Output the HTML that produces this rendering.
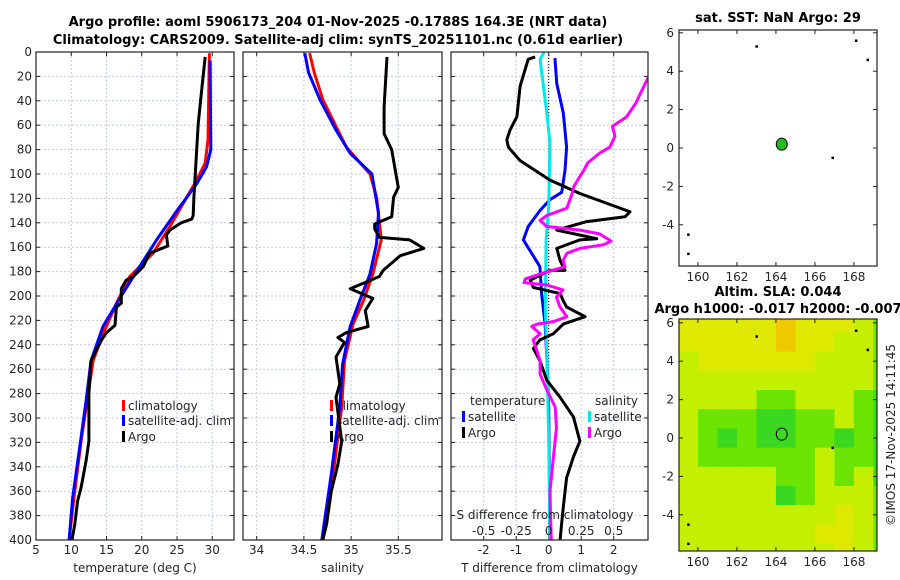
<!DOCTYPE html>
<html><head><meta charset="utf-8">
<style>
html,body{margin:0;padding:0;background:#fff;}
svg{display:block;font-family:"DejaVu Sans","Liberation Sans",sans-serif;}
.t{font-size:12px;fill:#262626;}
.b{font-size:13px;font-weight:bold;fill:#000;}
</style></head>
<body>
<svg id="c" width="900" height="580" viewBox="0 0 900 580" xmlns="http://www.w3.org/2000/svg">
<text class="b" x="338" y="26" text-anchor="middle">Argo profile: aoml 5906173_204 01-Nov-2025 -0.1788S 164.3E (NRT data)</text>
<text class="b" x="338" y="44" text-anchor="middle">Climatology: CARS2009. Satellite-adj clim: synTS_20251101.nc (0.61d earlier)</text>
<text class="b" x="778" y="22" text-anchor="middle">sat. SST: NaN Argo: 29</text>
<text class="b" x="778" y="296" text-anchor="middle">Altim. SLA: 0.044</text>
<text class="b" x="778" y="313" text-anchor="middle">Argo h1000: -0.017 h2000: -0.007</text>
<text class="t" x="0" y="0" transform="translate(895,435) rotate(-90)" text-anchor="middle" font-size="13">©IMOS 17-Nov-2025 14:11:45</text>
<g id="g"></g>
</svg>
<script>
// ---------- data ----------
const tDepth   = [4,31,59,80,100,119,134,137,140,146,150,159,165,176,184,187,194,206,209,224,230,236,253,280,319,335,357,368,387,400];
const tArgo    = [29.0,28.5,28.0,27.8,27.6,27.4,27.3,27.1,25.6,24.0,23.5,23.7,21.1,20.2,18.8,17.8,17.1,17.1,16.4,16.2,15.0,14.3,12.8,12.5,12.5,12.1,11.4,10.9,10.5,10.1];
const tcDepth  = [1,72,91,105,124,143,165,184,206,234,253,280,319,360,400];
const tClim    = [29.6,29.4,29.0,27.8,25.9,24.0,21.6,18.3,16.4,14.3,13.1,12.4,11.4,10.5,9.7];
const tsDepth  = [7,80,94,108,119,130,154,176,198,225,253,286,324,365,400];
const tSat     = [29.7,29.8,29.2,27.8,26.4,25.0,22.1,19.7,17.3,14.5,12.8,12.1,11.2,10.2,9.7];

const sDepth   = [4,45,67,80,100,111,119,135,141,145,152,154,161,167,179,184,194,202,212,225,230,234,238,250,272,283,319,338,360,387,400];
const sArgo    = [35.38,35.35,35.35,35.43,35.475,35.50,35.45,35.43,35.25,35.25,35.30,35.62,35.77,35.52,35.34,35.30,34.99,35.23,35.15,35.18,34.95,34.86,34.93,34.84,34.88,34.84,34.90,34.86,34.79,34.74,34.70];
const scDepth  = [1,17,39,61,78,100,119,154,182,204,223,253,291,346,400];
const sClim    = [34.56,34.61,34.70,34.84,34.95,35.20,35.27,35.32,35.23,35.13,35.02,34.93,34.90,34.81,34.70];
const ssDepth  = [1,17,39,64,83,100,132,157,182,204,225,256,291,346,400];
const sSat     = [34.51,34.55,34.67,34.84,34.99,35.22,35.29,35.27,35.20,35.09,34.99,34.91,34.88,34.79,34.69];

const dtDepth  = [4,6,28,53,64,72,78,89,105,116,127,131,135,139,146,153,154,161,171,179,179,187,193,198,204,209,217,223,231,236,243,253,269,283,299,319,332,349,373,386,400];
const dtArgo   = [-0.42,-0.63,-0.88,-0.98,-1.19,-1.29,-1.24,-0.88,0.04,0.96,2.09,2.50,2.35,1.17,0.25,1.48,0.96,0.25,0.35,0.50,0.04,-0.57,-0.47,0.35,0.45,0.55,1.12,0.45,0.14,-0.27,-0.47,-0.27,-0.06,0.35,0.76,0.96,0.76,0.55,0.45,0.40,0.35];
const dtsDepth = [5,26,50,78,97,115,121,130,143,154,163,176,198,223,250,291,400];
const dtSat    = [0.19,0.25,0.45,0.55,0.50,0.40,0.04,-0.27,-0.63,-0.78,-0.57,-0.27,-0.22,-0.11,-0.06,0,0.04];
const dssDepth = [0.5,6,50,75,127,154,209,264,319,400];
const dsSat    = [-0.036,-0.066,-0.015,0.01,0,-0.02,-0.026,-0.01,0,0.01];
const dsDepth  = [10,22,42,53,61,69,78,83,91,97,102,111,116,128,134,138,143,146,149,155,158,161,165,171,176,182,186,189,191,195,201,209,217,221,223,225,231,236,245,253,264,277,291,308,332,360,384,400];
const dsArgo   = [0.85,0.76,0.67,0.60,0.49,0.51,0.47,0.39,0.30,0.27,0.24,0.19,0.18,0.14,-0.015,-0.066,-0.015,0.24,0.39,0.48,0.42,0.24,0.14,0.11,0.125,-0.066,-0.18,-0.19,-0.015,0.11,0.06,0.087,0.14,0.036,-0.09,-0.13,-0.066,-0.12,-0.09,-0.066,-0.066,-0.015,0.05,0.06,0.036,0.01,0.015,0.02];

const depthTicks = [0,20,40,60,80,100,120,140,160,180,200,220,240,260,280,300,320,340,360,380,400];
const tTicks = [5,10,15,20,25,30];
const sTicks = [34,34.5,35,35.5];
const dTTicks = [-2,-1,0,1,2];
const dSTicks = [-0.5,-0.25,0,0.25,0.5];
const lonTicks = [160,162,164,166,168];
const latTicks = [6,4,2,0,-2,-4];

const mapLons = [159.5,160.5,161.5,162.5,163.5,164.5,165.5,166.5,167.5,168.5,169.5];
const mapLats = [6,5,4,3,2,1,0,-1,-2,-3,-4,-5,-6];
const slaLevel = [
 [3,3,3,3,3,4,3,3,3,2,1],
 [3,3,3,3,3,4,3,3,2,2,1],
 [2,3,3,3,3,3,3,2,2,2,1],
 [2,2,2,2,2,2,2,2,2,2,1],
 [2,2,2,2,1,1,2,2,2,1,0],
 [2,1,1,1,0,0,1,1,2,1,0],
 [2,1,0,1,0,0,1,1,0,1,0],
 [2,1,1,1,1,1,1,2,1,1,0],
 [2,2,2,2,2,1,1,2,1,2,0],
 [2,2,2,2,2,0,1,2,2,2,1],
 [2,2,2,2,2,2,2,2,3,2,1],
 [2,2,2,2,2,2,2,3,3,2,1],
 [2,2,2,2,2,2,2,2,3,2,1]];
const sstDotLon = [163.0,168.1,168.7,166.9,159.5,159.5];
const sstDotLat = [5.3,5.6,4.6,-0.5,-4.5,-5.5];
const argoLon = 164.3, argoLat = 0.2;

// ---------- drawing ----------
const NS="http://www.w3.org/2000/svg";
const G=document.getElementById('g');
function mk(tag,attrs,parent){const e=document.createElementNS(NS,tag);for(const k in attrs)e.setAttribute(k,attrs[k]);(parent||G).appendChild(e);return e;}
const Y0=52, Y1=540;
const yD=d=>Y0+(d/400)*(Y1-Y0);
let clipN=0;
function panel(name,x0,x1,vmin,pxPer,xticks,label,showY){
  const grp=mk('g',{});
  
  
  const xs=v=>x0+(v-vmin)*pxPer;
  const cid='pc'+(clipN++);
  const cp=mk('clipPath',{id:cid},grp);mk('rect',{x:x0,y:Y0,width:x1-x0,height:Y1-Y0},cp);
  xticks.forEach(v=>{const l=mk('line',{x1:xs(v),x2:xs(v),y1:Y0,y2:Y1,stroke:'#c4c8e8','stroke-width':1,'stroke-dasharray':'2,2'},grp);
    });
  depthTicks.forEach(d=>{const l=mk('line',{x1:x0,x2:x1,y1:yD(d),y2:yD(d),stroke:'#c4c8e8','stroke-width':1,'stroke-dasharray':'2,2'},grp);
    
    mk('line',{x1:x0,x2:x0+4,y1:yD(d),y2:yD(d),stroke:'#222'},grp);
    mk('line',{x1:x1-4,x2:x1,y1:yD(d),y2:yD(d),stroke:'#222'},grp);
    if(showY){const t=mk('text',{x:x0-4,y:yD(d)+4,'text-anchor':'end',class:'t'},grp);t.textContent=d;
      }
  });
  xticks.forEach(v=>{mk('line',{x1:xs(v),x2:xs(v),y1:Y1,y2:Y1-4,stroke:'#222'},grp);mk('line',{x1:xs(v),x2:xs(v),y1:Y0,y2:Y0+4,stroke:'#222'},grp);
    const t=mk('text',{x:xs(v),y:554,'text-anchor':'middle',class:'t'},grp);t.textContent=v;
    });
  const lines=mk('g',{'clip-path':'url(#'+cid+')'},grp);
  const r=mk('rect',{x:x0,y:Y0,width:x1-x0,height:Y1-Y0,fill:'none',stroke:'#222','stroke-width':1.2},grp);
  
  if(label){const t=mk('text',{x:(x0+x1)/2,y:572,'text-anchor':'middle',class:'t','font-size':'13'},grp);t.textContent=label;
    }
  return {grp,xs,lines};
}
function line(P,vals,deps,color,name,xs){
  const pts=vals.map((v,i)=>xs(v).toFixed(1)+','+yD(deps[i]).toFixed(1)).join(' ');
  const l=mk('polyline',{points:pts,fill:'none',stroke:color,'stroke-width':3,'stroke-linejoin':'round'},P.lines);
  
  
}
function legend(grp,x,y,color,text,name){
  const r=mk('rect',{x:x,y:y-10,width:3,height:11,fill:color},grp);
  
  const t=mk('text',{x:x+6,y:y,class:'t','font-size':'13'},grp);t.textContent=text;
  
}

// Panel 1 temperature
const P1=panel('temperature-panel',36,234,5,7.05,tTicks,'temperature (deg C)',true);
line(P1,tClim,tcDepth,'#ff0000','climatology-temp-line',P1.xs);
line(P1,tSat,tsDepth,'#0000ff','satellite-temp-line',P1.xs);
line(P1,tArgo,tDepth,'#000000','argo-temp-line',P1.xs);
legend(P1.grp,122,410,'#ff0000','climatology','legend-climatology');
legend(P1.grp,122,425,'#0000ff','satellite-adj. clim','legend-satellite');
legend(P1.grp,122,441,'#000000','Argo','legend-argo');

// Panel 2 salinity
const P2=panel('salinity-panel',243,442,34-(256.7-243)/94.4,94.4,sTicks,'salinity',false);
line(P2,sClim,scDepth,'#ff0000','climatology-salinity-line',P2.xs);
line(P2,sSat,ssDepth,'#0000ff','satellite-salinity-line',P2.xs);
line(P2,sArgo,sDepth,'#000000','argo-salinity-line',P2.xs);
legend(P2.grp,330,410,'#ff0000','climatology','legend-climatology');
legend(P2.grp,330,425,'#0000ff','satellite-adj. clim','legend-satellite');
legend(P2.grp,330,441,'#000000','Argo','legend-argo');

// Panel 3 differences
const P3=panel('difference-panel',451,648,-(548.7-451)/32.5,32.5,dTTicks,'T difference from climatology',false);
const zl=mk('line',{x1:P3.xs(0),x2:P3.xs(0),y1:Y0,y2:Y1,stroke:'#000','stroke-dasharray':'1,2'},P3.lines);

const xsS=v=>P3.xs(v*4);
line(P3,dtSat,dtsDepth,'#0000ff','satellite-temp-diff-line',P3.xs);
line(P3,dsSat,dssDepth,'#00e8e8','satellite-salinity-diff-line',xsS);
line(P3,dtArgo,dtDepth,'#000000','argo-temp-diff-line',P3.xs);
line(P3,dsArgo,dsDepth,'#ff00ff','argo-salinity-diff-line',xsS);
const ttl=mk('text',{x:470,y:405,class:'t','font-size':'13'},P3.grp);ttl.textContent='temperature';

const stl=mk('text',{x:595,y:405,class:'t','font-size':'13'},P3.grp);stl.textContent='salinity';

legend(P3.grp,462,421,'#0000ff','satellite','legend-temp-satellite');
legend(P3.grp,462,437,'#000000','Argo','legend-temp-argo');
legend(P3.grp,588,421,'#00e8e8','satellite','legend-sal-satellite');
legend(P3.grp,588,437,'#ff00ff','Argo','legend-sal-argo');
const sat=mk('text',{x:545,y:519,'text-anchor':'middle',class:'t','font-size':'13'},P3.grp);sat.textContent='S difference from climatology';

dSTicks.forEach(v=>{const t=mk('text',{x:xsS(v),y:535,'text-anchor':'middle',class:'t'},P3.grp);t.textContent=v;
  });

// Maps
const MX0=679,MX1=877,LON0=159.03,PXLON=19.5,PXLAT=19.2;
const mx=l=>MX0+(l-LON0)*PXLON;
function mapFrame(name,top,bottom,lat0y){
  const grp=mk('g',{});
  
  const my=la=>lat0y-la*PXLAT;
  return {grp,my,top,bottom};
}
function mapAxes(M){
  lonTicks.forEach(l=>{mk('line',{x1:mx(l),x2:mx(l),y1:M.bottom,y2:M.bottom-4,stroke:'#222'},M.grp);mk('line',{x1:mx(l),x2:mx(l),y1:M.top,y2:M.top+4,stroke:'#222'},M.grp);
    const t=mk('text',{x:mx(l),y:M.bottom+15,'text-anchor':'middle',class:'t'},M.grp);t.textContent=l;
    });
  latTicks.forEach(la=>{mk('line',{x1:MX0,x2:MX0+4,y1:M.my(la),y2:M.my(la),stroke:'#222'},M.grp);mk('line',{x1:MX1-4,x2:MX1,y1:M.my(la),y2:M.my(la),stroke:'#222'},M.grp);
    const t=mk('text',{x:MX0-5,y:M.my(la)+4,'text-anchor':'end',class:'t'},M.grp);t.textContent=la;
    });
  const r=mk('rect',{x:MX0,y:M.top,width:MX1-MX0,height:M.bottom-M.top,fill:'none',stroke:'#222','stroke-width':1.2},M.grp);
  
}
// SST map
const M1=mapFrame('sst-map',30,266,148);
sstDotLon.forEach((l,i)=>{const d=mk('rect',{x:mx(l)-1,y:M1.my(sstDotLat[i])-1,width:2.5,height:2.5,fill:'#000'},M1.grp);
  });
const c1=mk('ellipse',{cx:mx(argoLon),cy:M1.my(argoLat),rx:5.5,ry:6,fill:'#22bb22',stroke:'#000'},M1.grp);

mapAxes(M1);
// SLA map
const M2=mapFrame('sla-map',319,551,438);
const palette=['#3ad820','#6ae400','#c4f000','#dfe800','#f0c800'];
const clip=mk('clipPath',{id:'mclip'},M2.grp);mk('rect',{x:MX0,y:319,width:MX1-MX0,height:232},clip);
const cells=mk('g',{'clip-path':'url(#mclip)'},M2.grp);
mapLats.forEach((la,r)=>mapLons.forEach((lo,c)=>{
  const cell=mk('rect',{x:mx(lo-0.5),y:M2.my(la+0.5),width:PXLON+0.5,height:PXLAT+0.5,fill:palette[slaLevel[r][c]]},cells);
  
  
}));
sstDotLon.forEach((l,i)=>{const d=mk('rect',{x:mx(l)-1,y:M2.my(sstDotLat[i])-1,width:2.5,height:2.5,fill:'#000'},M2.grp);
  });
const c2=mk('ellipse',{cx:mx(argoLon),cy:M2.my(argoLat),rx:5.5,ry:6,fill:'none',stroke:'#000'},M2.grp);

mapAxes(M2);
</script>
</body></html>
